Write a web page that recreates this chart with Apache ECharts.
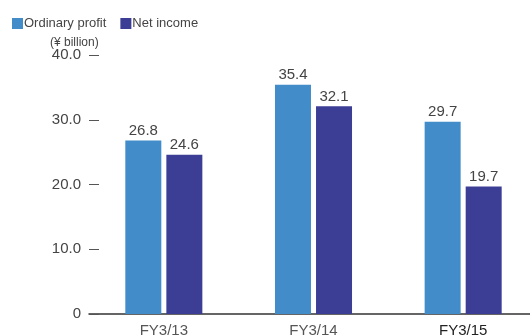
<!DOCTYPE html>
<html>
<head>
<meta charset="utf-8">
<script src="https://cdn.jsdelivr.net/npm/echarts@6/dist/echarts.min.js"></script>
<style>
  html, body { margin: 0; padding: 0; background: #fff; }
  #chart { width: 530px; height: 336px; }
</style>
</head>
<body>
<div id="chart"></div>
<script>
// Fiscal years on the category axis
const categories = ['FY3/13', 'FY3/14', 'FY3/15'];
// Values in ¥ billion
const ordinaryProfit = [26.8, 35.4, 29.7];
const netIncome = [24.6, 32.1, 19.7];
const seriesNames = ['Ordinary profit', 'Net income'];
const unitLabel = '(¥ billion)';

const FONT = 'Liberation Sans, Arial, Helvetica, sans-serif';
const chart = echarts.init(document.getElementById('chart'), null, { renderer: 'canvas' });

const valueLabel = {
  show: true,
  position: 'top',
  distance: 2,
  color: '#444',
  fontSize: 15,
  fontFamily: FONT,
  formatter: p => p.value.toFixed(1)
};

chart.setOption({
  animation: false,
  textStyle: { fontFamily: FONT },
  legend: {
    left: 7,
    top: 12,
    itemWidth: 11,
    itemHeight: 11,
    itemGap: 14,
    icon: 'rect',
    textStyle: { color: '#444', fontSize: 13, fontFamily: FONT, padding: [0, 0, 0, -4] },
    data: seriesNames
  },
  graphic: [{
    type: 'text',
    left: 50,
    top: 37,
    style: { text: unitLabel, fill: '#444', font: '12px ' + FONT }
  }],
  // the plot area runs slightly past the right edge of the canvas
  grid: { left: 89, width: 449, top: 55, bottom: 22, containLabel: false, outerBoundsMode: 'none' },
  xAxis: {
    type: 'category',
    data: categories,
    axisLine: { show: true, lineStyle: { color: '#333', width: 1.5 } },
    axisTick: { show: false },
    axisLabel: {
      margin: 9,
      fontSize: 15,
      fontFamily: FONT,
      color: (v) => v === 'FY3/15' ? '#222' : '#555'
    }
  },
  yAxis: {
    type: 'value',
    min: 0,
    max: 40,
    interval: 10,
    axisLine: { show: false },
    axisTick: { show: true, inside: true, length: 10, lineStyle: { color: '#555', width: 1 } },
    splitLine: { show: false },
    axisLabel: {
      margin: 8,
      fontSize: 15,
      fontFamily: FONT,
      color: '#444',
      formatter: v => v === 0 ? '0' : v.toFixed(1)
    }
  },
  series: [
    {
      name: seriesNames[0],
      type: 'bar',
      data: ordinaryProfit,
      barWidth: 36,
      barGap: '14%',
      itemStyle: { color: '#418cc9' },
      label: valueLabel
    },
    {
      name: seriesNames[1],
      type: 'bar',
      data: netIncome,
      barWidth: 36,
      barGap: '14%',
      itemStyle: { color: '#3c3e96' },
      label: valueLabel
    }
  ]
});
</script>
</body>
</html>
